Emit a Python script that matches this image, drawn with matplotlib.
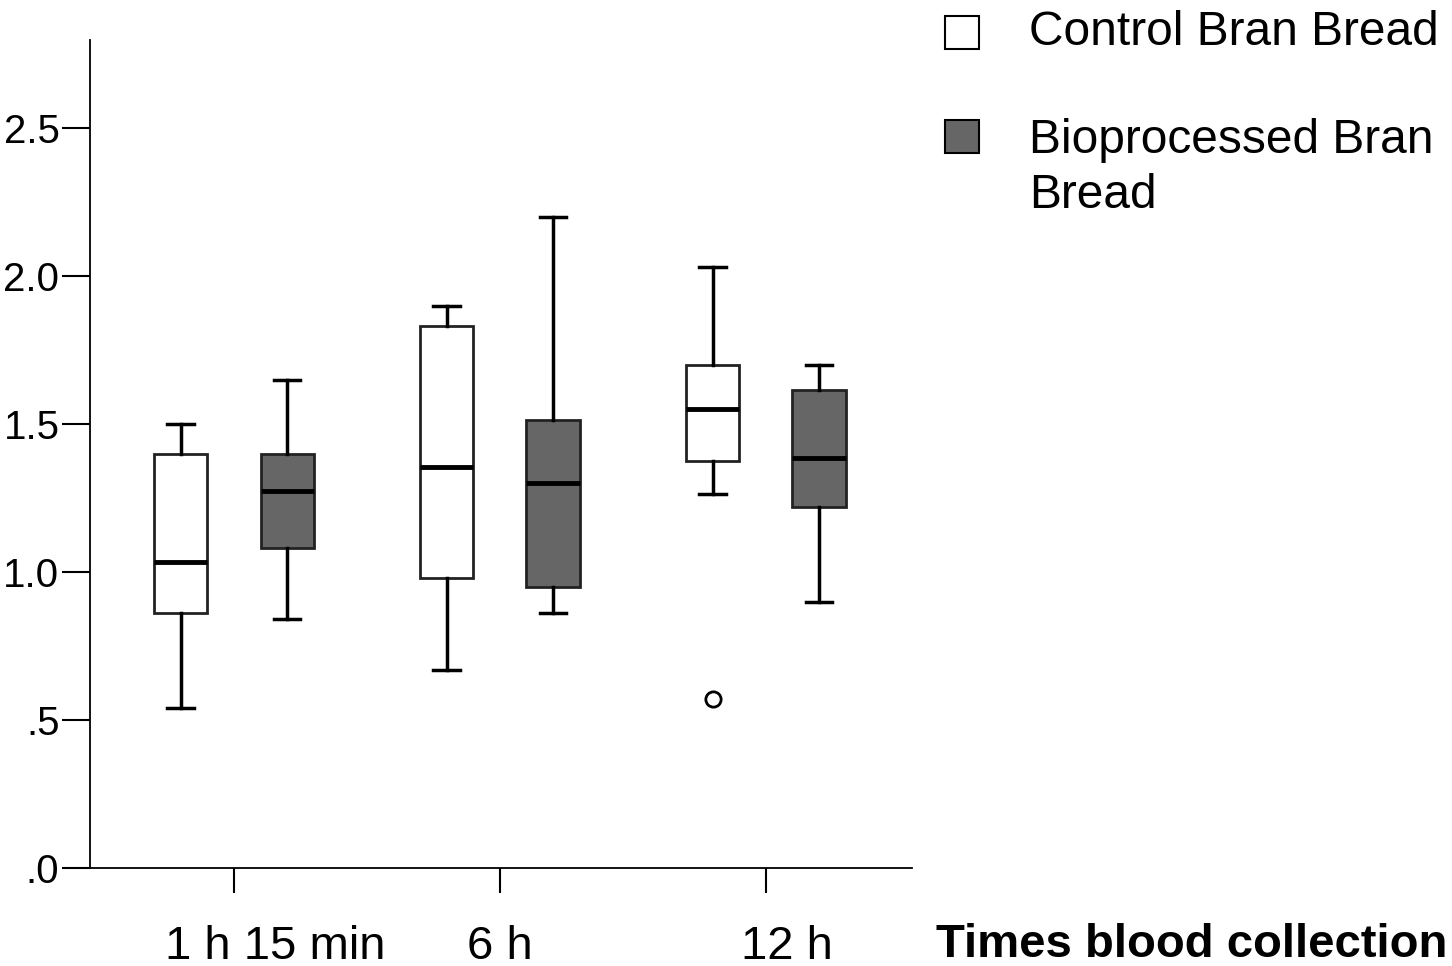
import matplotlib.pyplot as plt
from matplotlib.patches import Rectangle

plt.rcParams['font.family'] = ['Liberation Sans', 'DejaVu Sans']

# Blood collection times
times = ["1 h 15 min", "6 h", "12 h"]
series = ["Control Bran Bread", "Bioprocessed Bran\nBread"]
colors = ["white", "#666666"]

# Box statistics per time: (whisker low, q1, median, q3, whisker high)
control_stats = [
    (0.54, 0.86, 1.035, 1.40, 1.50),
    (0.67, 0.98, 1.355, 1.83, 1.90),
    (1.265, 1.375, 1.55, 1.70, 2.03),
]
bio_stats = [
    (0.84, 1.08, 1.275, 1.40, 1.65),
    (0.86, 0.95, 1.30, 1.515, 2.20),
    (0.90, 1.22, 1.385, 1.615, 1.70),
]
control_outliers = [[], [], [0.57]]
bio_outliers = [[], [], []]

yticks = [0, 0.5, 1.0, 1.5, 2.0, 2.5]
ytick_labels = [".0", ".5", "1.0", "1.5", "2.0", "2.5"]

fig = plt.figure(figsize=(14.52, 9.66), dpi=100)
ax = fig.add_axes([0.062, 0.1014, 0.566, 0.8572])


def make_stats(stats, outliers):
    out = []
    for (lo, q1, med, q3, hi), fl in zip(stats, outliers):
        out.append(dict(whislo=lo, q1=q1, med=med, q3=q3, whishi=hi, fliers=fl))
    return out


offset = 0.2
for i, (st, fl) in enumerate([(control_stats, control_outliers), (bio_stats, bio_outliers)]):
    pos = [g + (offset if i else -offset) for g in range(len(times))]
    ax.bxp(make_stats(st, fl), positions=pos, widths=0.2, capwidths=0.1,
           patch_artist=True, manage_ticks=False,
           boxprops=dict(facecolor=colors[i], edgecolor="#222222", linewidth=2),
           medianprops=dict(color="black", linewidth=3.5),
           whiskerprops=dict(color="black", linewidth=2.5),
           capprops=dict(color="black", linewidth=2.5),
           flierprops=dict(marker="o", markersize=11, markerfacecolor="white",
                           markeredgecolor="black", markeredgewidth=2))

ax.set_xlim(-0.541, 2.549)
ax.set_ylim(0, 2.797)

for s in ["top", "right"]:
    ax.spines[s].set_visible(False)
ax.spines["left"].set_linewidth(1.3)
ax.spines["bottom"].set_linewidth(1.3)

ax.set_yticks(yticks)
ax.set_yticklabels(ytick_labels, fontsize=29)
ax.tick_params(axis="y", length=20, width=1.5, pad=2)
ax.set_xticks(range(len(times)))
ax.set_xticklabels([])
ax.tick_params(axis="x", length=18, width=1.5)

# time labels under the axis
label_x = [0.155, 1.0, 2.08]
for x, t in zip(label_x, times):
    ax.text(x, -0.265, t, fontsize=34, ha="center", va="center")

fig.text(0.997, 0.022, "Times blood collection", fontsize=34, fontweight="bold",
         ha="right", va="center")

# legend
legend_box_y = [0.966, 0.858]
legend_text_y = [0.966, 0.826]
for c, name, yb, yt in zip(colors, series, legend_box_y, legend_text_y):
    fig.patches.append(Rectangle((0.651, yb - 0.0165), 0.023, 0.034,
                                 transform=fig.transFigure, facecolor=c,
                                 edgecolor="black", linewidth=1.5))
    fig.text(0.709, yt, name, fontsize=34.5, ha="left", va="center",
             linespacing=1.3)

fig.savefig("out.png", dpi=100)
